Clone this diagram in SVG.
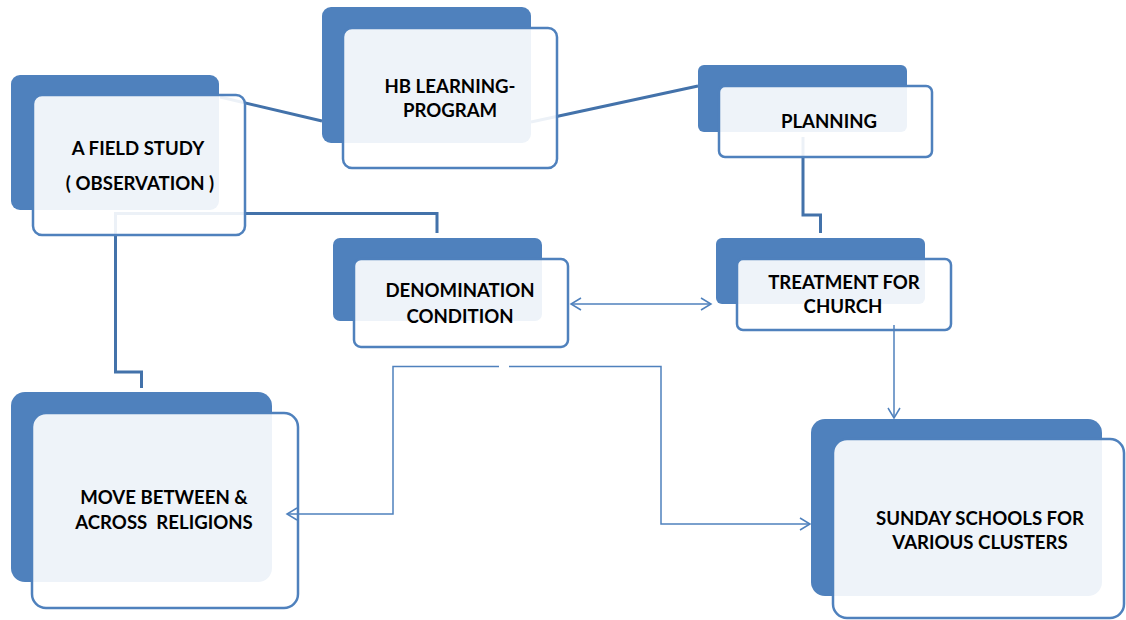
<svg xmlns="http://www.w3.org/2000/svg" width="1126" height="620" viewBox="0 0 1126 620">
<style>
.back{fill:#4F81BD}
.front{fill:#ffffff;fill-opacity:0.9;stroke:#4F81BD;stroke-width:2.5}
.lbl{font-family:Lato,"Liberation Sans",sans-serif;font-weight:bold;font-size:18.6px;fill:#000;text-anchor:middle}
.thick{fill:none;stroke:#4372AA;stroke-width:3}
.thin{fill:none;stroke:#4F81BD;stroke-width:1.5}
</style>
<defs>
<marker id="arr" markerUnits="userSpaceOnUse" markerWidth="16" markerHeight="16" refX="11" refY="7" orient="auto-start-reverse">
<path d="M1,1 L11,7 L1,13" fill="none" stroke="#4F81BD" stroke-width="1.5"/>
</marker>
</defs>
<rect width="1126" height="620" fill="#ffffff"/>
<g id="connectors-back">
<path class="thick" d="M220,97 L322,121"/>
<path class="thick" d="M531,122 L698,86"/>
<path class="thick" d="M437,233 V213.5 H115.5 V372 H141.5 V388"/>
<path class="thick" d="M803,137 V215 H820.5 V233"/>
</g>
<g id="n-field">
<rect class="back" x="11" y="75" width="208" height="135" rx="9"/>
<rect class="front" x="33" y="95" width="212" height="140" rx="9"/>
<text class="lbl" x="138" y="155">A FIELD STUDY</text>
<text class="lbl" x="140" y="190">( OBSERVATION )</text>
</g>
<g id="n-hb">
<rect class="back" x="322" y="7" width="209" height="136" rx="9"/>
<rect class="front" x="343" y="28" width="214" height="140" rx="9"/>
<text class="lbl" x="450" y="93">HB LEARNING-</text>
<text class="lbl" x="450" y="117">PROGRAM</text>
</g>
<g id="n-planning">
<rect class="back" x="698" y="65" width="209" height="67" rx="6"/>
<rect class="front" x="719" y="86" width="213" height="71" rx="6"/>
<text class="lbl" x="829" y="128">PLANNING</text>
</g>
<g id="n-denomination">
<rect class="back" x="333" y="238" width="209" height="83" rx="7"/>
<rect class="front" x="354" y="259" width="214" height="88" rx="7"/>
<text class="lbl" x="460" y="297">DENOMINATION</text>
<text class="lbl" x="460" y="323">CONDITION</text>
</g>
<g id="n-treatment">
<rect class="back" x="716" y="238" width="209" height="66" rx="6"/>
<rect class="front" x="737" y="259" width="214" height="71" rx="6"/>
<text class="lbl" x="844" y="289">TREATMENT FOR</text>
<text class="lbl" x="843" y="313">CHURCH</text>
</g>
<g id="n-move">
<rect class="back" x="11" y="392" width="261" height="190" rx="14"/>
<rect class="front" x="32" y="413" width="266" height="195" rx="14"/>
<text class="lbl" x="164" y="504">MOVE BETWEEN &amp;</text>
<text class="lbl" x="164" y="529" xml:space="preserve">ACROSS  RELIGIONS</text>
</g>
<g id="n-sunday">
<rect class="back" x="811" y="419" width="291" height="177" rx="14"/>
<rect class="front" x="833" y="439" width="291" height="179" rx="14"/>
<text class="lbl" x="980" y="525">SUNDAY SCHOOLS FOR</text>
<text class="lbl" x="980" y="549">VARIOUS CLUSTERS</text>
</g>
<g id="connectors-front">
<path class="thin" d="M571,304 H711" marker-start="url(#arr)" marker-end="url(#arr)"/>
<path class="thin" d="M894,325 V418" marker-end="url(#arr)"/>
<path class="thin" d="M499,366.5 H393 V514 H287" marker-end="url(#arr)"/>
<path class="thin" d="M509,366.5 H661 V524 H810" marker-end="url(#arr)"/>
</g>
</svg>
